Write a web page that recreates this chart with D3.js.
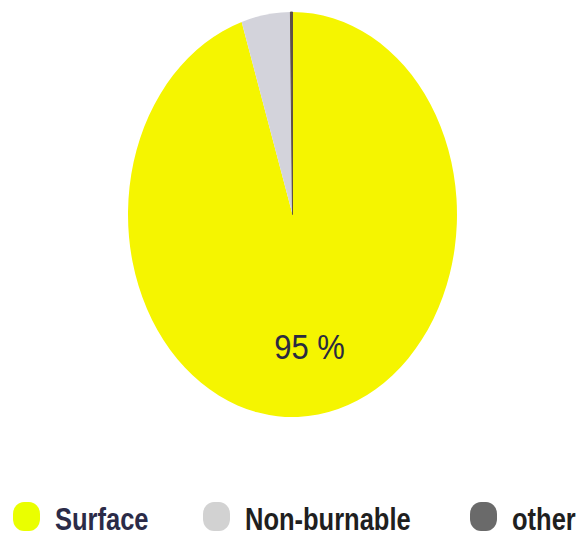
<!DOCTYPE html>
<html>
<head>
<meta charset="utf-8">
<script src="https://cdn.jsdelivr.net/npm/d3@7"></script>
<style>
  html, body { margin: 0; padding: 0; background: #ffffff; }
  svg { display: block; }
</style>
</head>
<body>
<div id="chart"></div>
<script>
// ---- data ----
const categories = ["Surface", "Non-burnable", "other"];
const values = [95, 4.8, 0.2];
const sliceColors = ["#f5f500", "#d3d3db", "#5e5048"];
const legendSwatchColors = ["#eaff00", "#d2d2d2", "#6a6a6a"];
const sliceLabels = ["95 %", "", ""];

// ---- layout ----
const W = 582, H = 538;
const cx = 292.5, cy = 214.5, rx = 164.5, ry = 202.5;
const R = 100;

const svg = d3.select("#chart").append("svg")
  .attr("width", W).attr("height", H);

const data = categories.map((c, i) => ({ name: c, value: values[i], color: sliceColors[i], label: sliceLabels[i] }));

const pie = d3.pie().sort(null).value(d => d.value);
const arcs = pie(data);
const arc = d3.arc().innerRadius(0).outerRadius(R);
const labelArc = d3.arc().innerRadius(0).outerRadius(R * 1.32);

const g = svg.append("g")
  .attr("transform", `translate(${cx},${cy}) scale(${rx / R},${ry / R})`);

g.selectAll("path")
  .data(arcs)
  .join("path")
  .attr("d", arc)
  .attr("fill", d => d.data.color)
  .attr("stroke", (d, i) => i === 2 ? "#5e5048" : "none")
  .attr("stroke-width", 1)
  .attr("vector-effect", "non-scaling-stroke");

// percentage label
arcs.filter(d => d.data.label).forEach(d => {
  const [x, y] = labelArc.centroid(d);
  svg.append("text")
    .attr("transform", `translate(${cx + x * rx / R},${cy + y * ry / R}) scale(1,1.12)`)
    .attr("text-anchor", "middle")
    .attr("dominant-baseline", "central")
    .attr("font-family", "Liberation Sans, Arial, sans-serif")
    .attr("font-size", 31)
    .attr("fill", "#2a2a40")
    .text(d.data.label);
});

// ---- legend ----
const legendX = [13, 203, 470];
const textX = [55, 245, 512];
const textColors = ["#2b2b48", "#1f1f1f", "#1f1f1f"];
const legend = svg.append("g");
categories.forEach((c, i) => {
  legend.append("rect")
    .attr("x", legendX[i]).attr("y", 502)
    .attr("width", 27).attr("height", 29)
    .attr("rx", 11).attr("ry", 12)
    .attr("fill", legendSwatchColors[i]);
  legend.append("text")
    .attr("transform", `translate(${textX[i]},530) scale(1,1.25)`)
    .attr("font-family", "Liberation Sans, Arial, sans-serif")
    .attr("font-weight", "bold")
    .attr("font-size", 25.5)
    .attr("fill", textColors[i])
    .text(c);
});
</script>
</body>
</html>
